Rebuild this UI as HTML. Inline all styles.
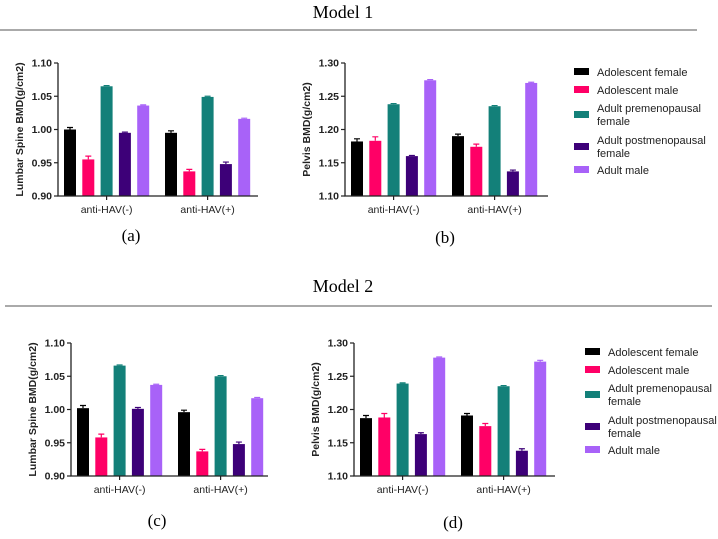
<!DOCTYPE html>
<html><head><meta charset="utf-8"><style>
body{margin:0;background:#fff}
svg{display:block;font-family:"Liberation Sans",sans-serif}
</style></head><body>
<svg id="fig" width="718" height="539" viewBox="0 0 718 539" xmlns="http://www.w3.org/2000/svg">
<text x="343" y="18" text-anchor="middle" font-family="Liberation Serif" font-size="18">Model 1</text>
<line x1="0" y1="30" x2="697" y2="30" stroke="#555" stroke-width="1"/>
<text x="343" y="292" text-anchor="middle" font-family="Liberation Serif" font-size="18">Model 2</text>
<line x1="5" y1="306" x2="712" y2="306" stroke="#555" stroke-width="1"/>
<text x="131" y="241" text-anchor="middle" font-family="Liberation Serif" font-size="17">(a)</text>
<text x="445" y="243" text-anchor="middle" font-family="Liberation Serif" font-size="17">(b)</text>
<text x="157" y="526" text-anchor="middle" font-family="Liberation Serif" font-size="17">(c)</text>
<text x="453" y="528" text-anchor="middle" font-family="Liberation Serif" font-size="17">(d)</text>
<g id="charts"></g>
</svg>
<script>
const categories = ["anti-HAV(-)", "anti-HAV(+)"];
const seriesNames = ["Adolescent female","Adolescent male","Adult premenopausal female","Adult postmenopausal female","Adult male"];
const colors = ["#000000","#ff0066","#138079","#3d0078","#a862f8"];
const spineTicks = ["0.90","0.95","1.00","1.05","1.10"];
const pelvisTicks = ["1.10","1.15","1.20","1.25","1.30"];
const aVals = [[1.000,0.955,1.065,0.995,1.036],[0.995,0.937,1.049,0.948,1.016]];
const aErr  = [[0.003,0.005,0.001,0.001,0.001],[0.003,0.003,0.001,0.003,0.001]];
const bVals = [[1.182,1.183,1.238,1.160,1.274],[1.190,1.174,1.235,1.137,1.270]];
const bErr  = [[0.004,0.006,0.001,0.001,0.001],[0.003,0.004,0.001,0.002,0.001]];
const cVals = [[1.002,0.958,1.066,1.001,1.037],[0.996,0.937,1.050,0.948,1.017]];
const cErr  = [[0.004,0.005,0.001,0.002,0.001],[0.003,0.003,0.001,0.003,0.001]];
const dVals = [[1.187,1.188,1.239,1.163,1.278],[1.191,1.175,1.235,1.138,1.272]];
const dErr  = [[0.004,0.006,0.001,0.002,0.001],[0.003,0.004,0.001,0.003,0.002]];

const NS="http://www.w3.org/2000/svg";
const root=document.getElementById('charts');
function mk(tag,attrs,parent){const e=document.createElementNS(NS,tag);for(const k in attrs)e.setAttribute(k,attrs[k]);parent.appendChild(e);return e;}

function chart(name,ax,top,bottom,right,ticks,vals,errs,ylabel){
  const g=mk('g',{},root);
  
  
  const lo=parseFloat(ticks[0]),hi=parseFloat(ticks[ticks.length-1]);
  const y=v=>bottom-(v-lo)/(hi-lo)*(bottom-top);
  const groupW=101, barStep=18.3, barW=12, first=ax+6;
  const x=(gi,si)=>first+gi*groupW+si*barStep;
  vals.forEach((grp,gi)=>grp.forEach((v,si)=>{
    const r=mk('rect',{x:x(gi,si),y:y(v),width:barW,height:bottom-y(v),fill:colors[si]},g);
    
    
    const e=errs[gi][si], cx=x(gi,si)+barW/2;
    const eb=mk('path',{d:`M${cx} ${y(v)}V${y(v+e)}M${cx-3} ${y(v+e)}H${cx+3}`,stroke:colors[si],'stroke-width':1.2,fill:'none'},g);
    
    
  }));
  const axis=mk('path',{d:`M${ax} ${top}V${bottom}H${right}`,stroke:'#222','stroke-width':1.3,fill:'none'},g);
  
  
  ticks.forEach(t=>{
    const ty=y(parseFloat(t));
    mk('line',{x1:ax-4,x2:ax,y1:ty,y2:ty,stroke:'#222','stroke-width':1.2},g);
    const tx=mk('text',{x:ax-6,y:ty+3.5,'text-anchor':'end','font-size':10.5,'font-weight':'bold',fill:'#222'},g);
    tx.textContent=t;
    
    
  });
  categories.forEach((c,gi)=>{
    const cx=x(gi,2)+barW/2;
    mk('line',{x1:cx,x2:cx,y1:bottom,y2:bottom+4,stroke:'#222','stroke-width':1.2},g);
    const tx=mk('text',{x:cx,y:bottom+17,'text-anchor':'middle','font-size':10.5,fill:'#222'},g);
    tx.textContent=c;
    
    
  });
  const yl=mk('text',{x:0,y:0,transform:`translate(${ax-35},${(top+bottom)/2}) rotate(-90)`,'text-anchor':'middle','font-size':10.5,'font-weight':'bold',fill:'#222'},g);
  yl.textContent=ylabel;
  
  
}
function legend(name,lx,ly){
  const g=mk('g',{},root);
  
  
  const rows=[[0],[18],[36,49],[68,81],[98]];
  const boxY=[0,18,43,75,98];
  seriesNames.forEach((s,i)=>{
    const r=mk('rect',{x:lx,y:ly+boxY[i]-4,width:15,height:7,fill:colors[i]},g);
    
    
    const lines = i==2?["Adult premenopausal","female"]:i==3?["Adult postmenopausal","female"]:[s];
    lines.forEach((ln,j)=>{
      const t=mk('text',{x:lx+23,y:ly+rows[i][j]+4,'font-size':11,fill:'#222'},g);
      t.textContent=ln;
      
      
    });
  });
}
chart('chart-a-lumbar-model1',58,63,196,258,spineTicks,aVals,aErr,'Lumbar Spine BMD(g/cm2)');
chart('chart-b-pelvis-model1',345,63,196,548,pelvisTicks,bVals,bErr,'Pelvis BMD(g/cm2)');
chart('chart-c-lumbar-model2',71,343,476,268,spineTicks,cVals,cErr,'Lumbar Spine BMD(g/cm2)');
chart('chart-d-pelvis-model2',354,343,476,555,pelvisTicks,dVals,dErr,'Pelvis BMD(g/cm2)');
legend('legend-model1',574,72);
legend('legend-model2',585,352);
</script>
</body></html>
